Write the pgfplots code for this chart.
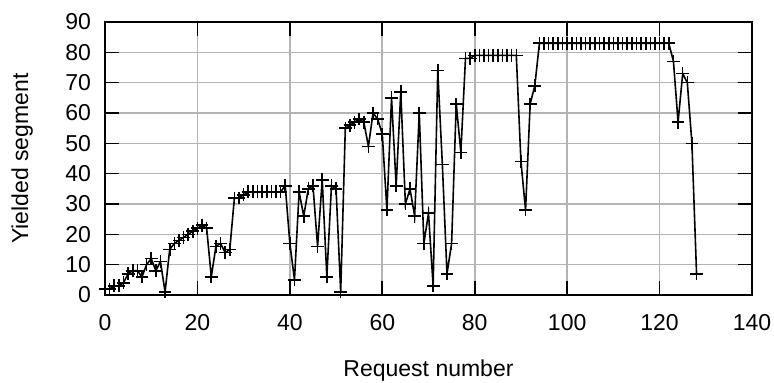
\documentclass[border=0pt]{standalone}
\usepackage{fontspec}
\setmainfont{Liberation Sans}
\usepackage{pgfplots}
\pgfplotsset{compat=1.18}
\definecolor{gridgray}{RGB}{180,180,180}
\begin{document}
\begin{tikzpicture}
\begin{axis}[
  scale only axis,
  width=323.5pt, height=136.5pt,
  xmin=0, xmax=140, ymin=0, ymax=90,
  xtick={0,20,...,140}, ytick={0,10,...,90},
  tick align=inside,
  major tick length=7pt,
  every tick/.style={black, line width=0.8pt},
  axis line style={black, line width=1pt},
  grid=major,
  major grid style={gridgray, line width=0.8pt},
  /pgf/number format/assume math mode=true,
  tick label style={font=\fontsize{11.5}{13}\selectfont},
  label style={font=\fontsize{11.5}{13}\selectfont},
  xlabel={Request number},
  ylabel={Yielded segment},
  xticklabel style={anchor=center, yshift=-14pt},
  yticklabel style={xshift=-3.5pt},
  xlabel style={at={(axis description cs:0.5,-0.275)}, anchor=center},
  ylabel style={at={(axis description cs:-0.128,0.5)}, anchor=center},
]
\addplot[black, line width=0.8pt, mark=+, mark size=3.2pt, mark options={line width=0.8pt}] coordinates {
(0,2)(1,2)(2,3)(3,3)(4,4)(5,7)(6,8)(7,8)(8,6)(9,10)
(10,12)(11,8)(12,11)(13,1)(14,15)(15,17)(16,18)(17,19)(18,20)(19,21)
(20,22)(21,23)(22,22)(23,6)(24,16)(25,17)(26,14)(27,15)(28,32)(29,32)
(30,33)(31,34)(32,34)(33,34)(34,34)(35,34)(36,34)(37,34)(38,34)(39,36)
(40,17)(41,5)(42,34)(43,26)(44,35)(45,36)(46,16)(47,38)(48,6)(49,36)
(50,35)(51,1)(52,55)(53,56)(54,57)(55,58)(56,57)(57,49)(58,60)(59,58)
(60,53)(61,28)(62,65)(63,36)(64,67)(65,30)(66,35)(67,26)(68,60)(69,17)
(70,27)(71,3)(72,74)(73,43)(74,7)(75,17)(76,63)(77,47)(78,78)(79,78)
(80,79)(81,79)(82,79)(83,79)(84,79)(85,79)(86,79)(87,79)(88,79)(89,79)
(90,44)(91,28)(92,63)(93,69)(94,83)(95,83)(96,83)(97,83)(98,83)(99,83)
(100,83)(101,83)(102,83)(103,83)(104,83)(105,83)(106,83)(107,83)(108,83)(109,83)
(110,83)(111,83)(112,83)(113,83)(114,83)(115,83)(116,83)(117,83)(118,83)(119,83)
(120,83)(121,83)(122,83)(123,77)(124,57)(125,73)(126,70)(127,50)(128,7)
};
\end{axis}
\pgfresetboundingbox
\path ([shift={(-52.5pt,-44pt)}]current axis.south west) rectangle ([shift={(11pt,11pt)}]current axis.north east);
\end{tikzpicture}
\end{document}
